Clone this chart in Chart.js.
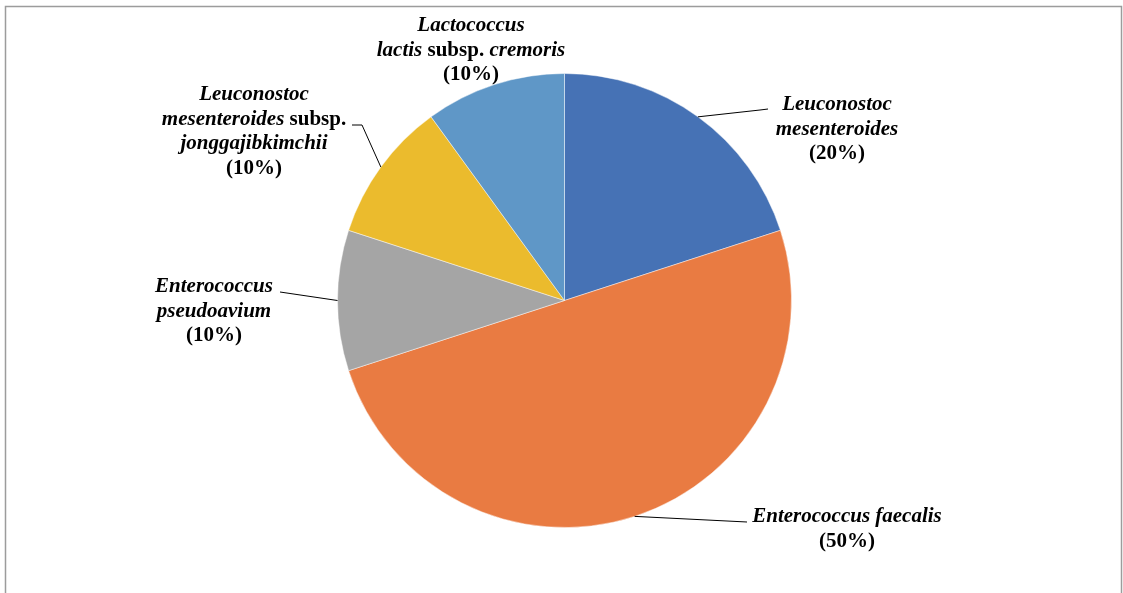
<!DOCTYPE html>
<html>
<head>
<meta charset="utf-8">
<title>LAB species distribution</title>
<script src="https://cdn.jsdelivr.net/npm/chart.js@4"></script>
<style>
  html, body { margin: 0; padding: 0; background: #fff; }
  canvas { display: block; }
</style>
</head>
<body>
<canvas id="pieChart" width="1123" height="593"></canvas>
<script>
// Species and their share of isolates (%), clockwise from 12 o'clock
const species = [
  'Leuconostoc mesenteroides',
  'Enterococcus faecalis',
  'Enterococcus pseudoavium',
  'Leuconostoc mesenteroides subsp. jonggajibkimchii',
  'Lactococcus lactis subsp. cremoris'
];
const shares = [20, 50, 10, 10, 10];
const sliceColors = ['#4672b5', '#e97b42', '#a5a5a5', '#ebbb2d', '#5f97c7'];

// Label text: each line is a list of [text, italic] runs
const labelLines = [
  [[['Leuconostoc', true]], [['mesenteroides', true]]],
  [[['Enterococcus faecalis', true]]],
  [[['Enterococcus', true]], [['pseudoavium', true]]],
  [[['Leuconostoc', true]], [['mesenteroides', true], [' subsp.', false]], [['jonggajibkimchii', true]]],
  [[['Lactococcus', true]], [['lactis', true], [' subsp. ', false], ['cremoris', true]]]
];

// Label placement: text centre, first line y, and leader path (null = no leader)
const labelLayout = [
  { cx: 837, y: 105, leader: [[760, 110], [768, 109]] },
  { cx: 847, y: 517, leader: [[747, 522]] },
  { cx: 214, y: 287, leader: [[280, 292]] },
  { cx: 254, y: 95,  leader: [[362, 125], [352, 125]] },
  { cx: 471, y: 26,  leader: null }
];

const LINE_H = 24.5;
const FONT = '"Liberation Serif", "Times New Roman", serif';

function drawRuns(ctx, runs, cx, y) {
  const fonts = runs.map(r => (r[1] ? 'italic bold 21px ' : 'bold 21px ') + FONT);
  let total = 0;
  const widths = runs.map((r, i) => {
    ctx.font = fonts[i];
    const w = ctx.measureText(r[0]).width;
    total += w;
    return w;
  });
  let x = cx - total / 2;
  runs.forEach((r, i) => {
    ctx.font = fonts[i];
    ctx.fillText(r[0], x, y);
    x += widths[i];
  });
}

const framePlugin = {
  id: 'frame',
  beforeDraw(chart) {
    const ctx = chart.ctx;
    ctx.save();
    ctx.fillStyle = '#fff';
    ctx.fillRect(0, 0, chart.width, chart.height);
    ctx.strokeStyle = '#9c9c9c';
    ctx.lineWidth = 1.5;
    ctx.strokeRect(5.5, 6.5, 1116, 600);
    ctx.restore();
  }
};

const labelPlugin = {
  id: 'sliceLabels',
  afterDatasetsDraw(chart) {
    const ctx = chart.ctx;
    const arcs = chart.getDatasetMeta(0).data;
    ctx.save();
    ctx.fillStyle = '#000';
    ctx.strokeStyle = '#000';
    ctx.lineWidth = 1;
    ctx.textAlign = 'left';
    ctx.textBaseline = 'middle';
    arcs.forEach((arc, i) => {
      const p = arc.getProps(['x', 'y', 'startAngle', 'endAngle', 'outerRadius'], true);
      const mid = (p.startAngle + p.endAngle) / 2;
      const ax = p.x + Math.cos(mid) * p.outerRadius;
      const ay = p.y + Math.sin(mid) * p.outerRadius;
      const lay = labelLayout[i];
      if (lay.leader) {
        ctx.beginPath();
        ctx.moveTo(ax, ay);
        lay.leader.forEach(pt => ctx.lineTo(pt[0], pt[1]));
        ctx.stroke();
      }
      const lines = labelLines[i].concat([[['(' + shares[i] + '%)', false]]]);
      lines.forEach((runs, k) => drawRuns(ctx, runs, lay.cx, lay.y + k * LINE_H));
    });
    ctx.restore();
  }
};

new Chart(document.getElementById('pieChart'), {
  type: 'pie',
  data: {
    labels: species,
    datasets: [{
      data: shares,
      backgroundColor: sliceColors,
      borderColor: 'rgba(255,255,255,0.6)',
      borderWidth: 0.75
    }]
  },
  options: {
    responsive: false,
    animation: false,
    radius: 227,
    layout: { padding: { left: 6, right: 0, top: 8, bottom: 0 } },
    plugins: {
      legend: { display: false },
      tooltip: { enabled: false }
    }
  },
  plugins: [framePlugin, labelPlugin]
});
</script>
</body>
</html>
